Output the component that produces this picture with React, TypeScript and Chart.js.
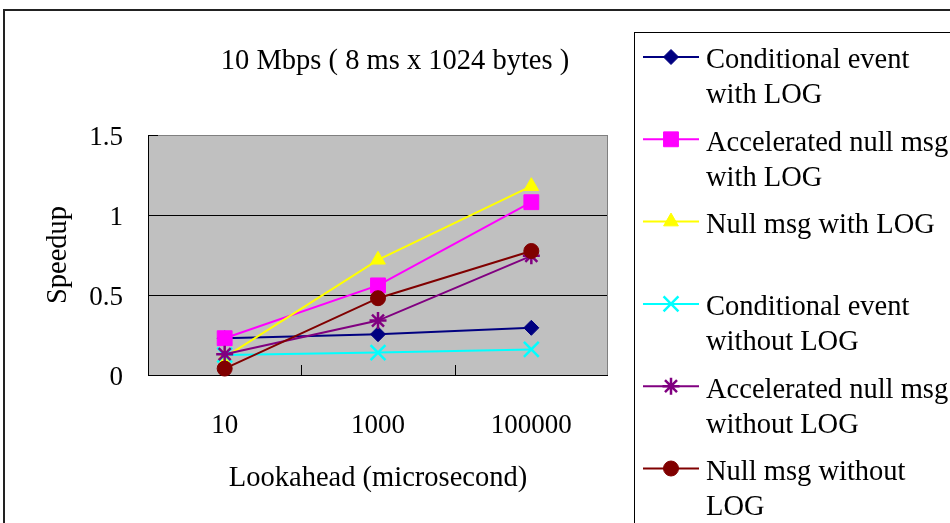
import React, { useEffect, useRef } from 'react';
import { Chart, registerables } from 'chart.js';
import { drawPoint } from 'chart.js/helpers';

Chart.register(...registerables);

const FONT = "'Liberation Serif', 'Times New Roman', serif";

const chartTitle = '10 Mbps ( 8 ms x 1024 bytes )';
const xAxisTitle = 'Lookahead (microsecond)';
const yAxisTitle = 'Speedup';

const categories = ['10', '1000', '100000'];
const yTickValues = [0, 0.5, 1, 1.5];
const yTickLabels = ['0', '0.5', '1', '1.5'];

const condEventWithLog = [0.23, 0.255, 0.295];
const accelNullWithLog = [0.23, 0.56, 1.08];
const nullMsgWithLog = [0.11, 0.72, 1.18];
const condEventWithoutLog = [0.125, 0.14, 0.16];
const accelNullWithoutLog = [0.13, 0.34, 0.745];
const nullMsgWithoutLog = [0.04, 0.48, 0.775];

const seriesNames = [
  'Conditional event with LOG',
  'Accelerated null msg with LOG',
  'Null msg with LOG',
  'Conditional event without LOG',
  'Accelerated null msg without LOG',
  'Null msg without LOG',
];
const seriesValues = [
  condEventWithLog,
  accelNullWithLog,
  nullMsgWithLog,
  condEventWithoutLog,
  accelNullWithoutLog,
  nullMsgWithoutLog,
];
const seriesColors = ['#000080', '#FF00FF', '#FFFF00', '#00FFFF', '#800080', '#800000'];
const seriesMarkers = ['rectRot', 'rect', 'triangle', 'crossRot', 'star', 'circle'];
const markerRadii = [7.5, 10.5, 8.5, 10.5, 8.5, 7.5];
const markerBorder = [1, 1, 1, 2.5, 2.5, 1];

function wrapText(ctx: CanvasRenderingContext2D, text: string, maxW: number): string[] {
  const words = text.split(' ');
  const lines: string[] = [];
  let cur = '';
  for (const w of words) {
    const test = cur ? cur + ' ' + w : w;
    if (cur && ctx.measureText(test).width > maxW) {
      lines.push(cur);
      cur = w;
    } else cur = test;
  }
  if (cur) lines.push(cur);
  return lines;
}

const decorPlugin = {
  id: 'decor',
  beforeDraw(chart: any) {
    const { ctx, chartArea: a } = chart;
    ctx.save();
    ctx.fillStyle = '#ffffff';
    ctx.fillRect(0, 0, chart.width, chart.height);
    ctx.fillStyle = '#C0C0C0';
    ctx.fillRect(a.left, a.top, a.right - a.left, a.bottom - a.top);
    // outer chart border
    ctx.strokeStyle = '#222';
    ctx.lineWidth = 2;
    ctx.beginPath();
    ctx.moveTo(4, chart.height + 5);
    ctx.lineTo(4, 10);
    ctx.lineTo(chart.width + 5, 10);
    ctx.stroke();
    // title
    ctx.fillStyle = '#000';
    ctx.font = `28.5px ${FONT}`;
    ctx.textAlign = 'center';
    ctx.textBaseline = 'middle';
    ctx.fillText(chartTitle, 395, 62);
    ctx.restore();
  },
  beforeDatasetsDraw(chart: any) {
    const { ctx, chartArea: a, scales } = chart;
    ctx.save();
    ctx.lineWidth = 1;
    // top & right border gray
    ctx.strokeStyle = '#808080';
    ctx.beginPath();
    ctx.moveTo(a.left, a.top + 0.5);
    ctx.lineTo(a.right - 0.5, a.top + 0.5);
    ctx.lineTo(a.right - 0.5, a.bottom);
    ctx.stroke();
    // left & bottom axis black
    ctx.strokeStyle = '#000';
    ctx.beginPath();
    ctx.moveTo(a.left + 0.5, a.top);
    ctx.lineTo(a.left + 0.5, a.bottom + 0.5);
    ctx.lineTo(a.right, a.bottom + 0.5);
    ctx.stroke();
    // inside tick marks
    const x = scales.x;
    ctx.beginPath();
    for (let i = 1; i < categories.length; i++) {
      const px = Math.round((x.getPixelForValue(i - 1) + x.getPixelForValue(i)) / 2) + 0.5;
      ctx.moveTo(px, a.bottom);
      ctx.lineTo(px, a.bottom - 10);
    }
    const y = scales.y;
    for (const v of yTickValues) {
      const py = Math.round(y.getPixelForValue(v)) + 0.5;
      ctx.moveTo(a.left, py);
      ctx.lineTo(a.left + 10, py);
    }
    ctx.stroke();
    ctx.restore();
  },
  afterDraw(chart: any) {
    const { ctx } = chart;
    ctx.save();
    ctx.strokeStyle = '#000';
    ctx.lineWidth = 1;
    ctx.strokeRect(634.5, 32.5, 500, 700);
    ctx.font = `28.5px ${FONT}`;
    ctx.textAlign = 'left';
    ctx.textBaseline = 'middle';
    seriesNames.forEach((name, i) => {
      const yText = 61 + i * 82.3;
      const yMark = yText - 4;
      const color = seriesColors[i];
      ctx.strokeStyle = color;
      ctx.fillStyle = color;
      ctx.lineWidth = 2;
      ctx.beginPath();
      ctx.moveTo(643, yMark);
      ctx.lineTo(699, yMark);
      ctx.stroke();
      ctx.lineWidth = markerBorder[i];
      drawPoint(ctx, {
        pointStyle: seriesMarkers[i],
        rotation: 0,
        radius: markerRadii[i],
        borderWidth: markerBorder[i],
      } as any, 671, yMark);
      ctx.fillStyle = '#000';
      const lines = wrapText(ctx, name, 246);
      lines.forEach((ln, j) => ctx.fillText(ln, 706, yText + j * 35));
    });
    ctx.restore();
  },
};

export default function App() {
  const ref = useRef<HTMLCanvasElement | null>(null);
  useEffect(() => {
    if (!ref.current) return;
    const chart = new Chart(ref.current, {
      type: 'line',
      data: {
        labels: categories,
        datasets: seriesValues.map((vals, i) => ({
          label: seriesNames[i],
          data: vals,
          borderColor: seriesColors[i],
          backgroundColor: seriesColors[i],
          borderWidth: 2,
          pointStyle: seriesMarkers[i] as any,
          pointRadius: markerRadii[i],
          pointHoverRadius: markerRadii[i],
          pointBorderWidth: markerBorder[i],
          pointBorderColor: seriesColors[i],
          pointBackgroundColor: seriesColors[i],
          tension: 0,
          clip: false as any,
          order: seriesValues.length - 1 - i,
        })),
      },
      options: {
        responsive: false,
        animation: false,
        devicePixelRatio: 1,
        layout: { padding: { left: 0, top: 135, right: 342, bottom: 0 } },
        plugins: {
          legend: { display: false },
          title: { display: false },
          tooltip: { enabled: false },
        },
        scales: {
          x: {
            type: 'category',
            offset: true,
            grid: { display: false, drawTicks: false },
            border: { display: false },
            ticks: { color: '#000', font: { family: FONT, size: 27 }, padding: 35, maxRotation: 0 },
            title: {
              display: true,
              text: xAxisTitle,
              color: '#000',
              font: { family: FONT, size: 28.5 },
              padding: { top: 0, bottom: 27 },
            },
            afterFit: (s: any) => { s.height = 148; },
          },
          y: {
            min: 0,
            max: 1.5,
            afterBuildTicks: (s: any) => { s.ticks = yTickValues.map((v) => ({ value: v })); },
            grid: {
              color: (c: any) => (c.tick && c.tick.value === 1.5 ? '#808080' : '#000'),
              lineWidth: 1,
              drawTicks: false,
            },
            border: { display: false },
            ticks: {
              color: '#000',
              font: { family: FONT, size: 27 },
              padding: 25,
              labelOffset: 3,
              callback: (v: any) => {
                const k = yTickValues.indexOf(Number(v));
                return k >= 0 ? yTickLabels[k] : String(v);
              },
            },
            title: {
              display: true,
              text: yAxisTitle,
              color: '#000',
              font: { family: FONT, size: 28.5 },
              padding: { top: 41, bottom: 0 },
            },
            afterFit: (s: any) => { s.width = 148; },
          },
        },
      },
      plugins: [decorPlugin],
    });
    return () => chart.destroy();
  }, []);
  return (
    <div style={{ position: 'fixed', left: 0, top: 0, width: 950, height: 523 }}>
      <canvas ref={ref} width={950} height={523} style={{ display: 'block' }} />
    </div>
  );
}
